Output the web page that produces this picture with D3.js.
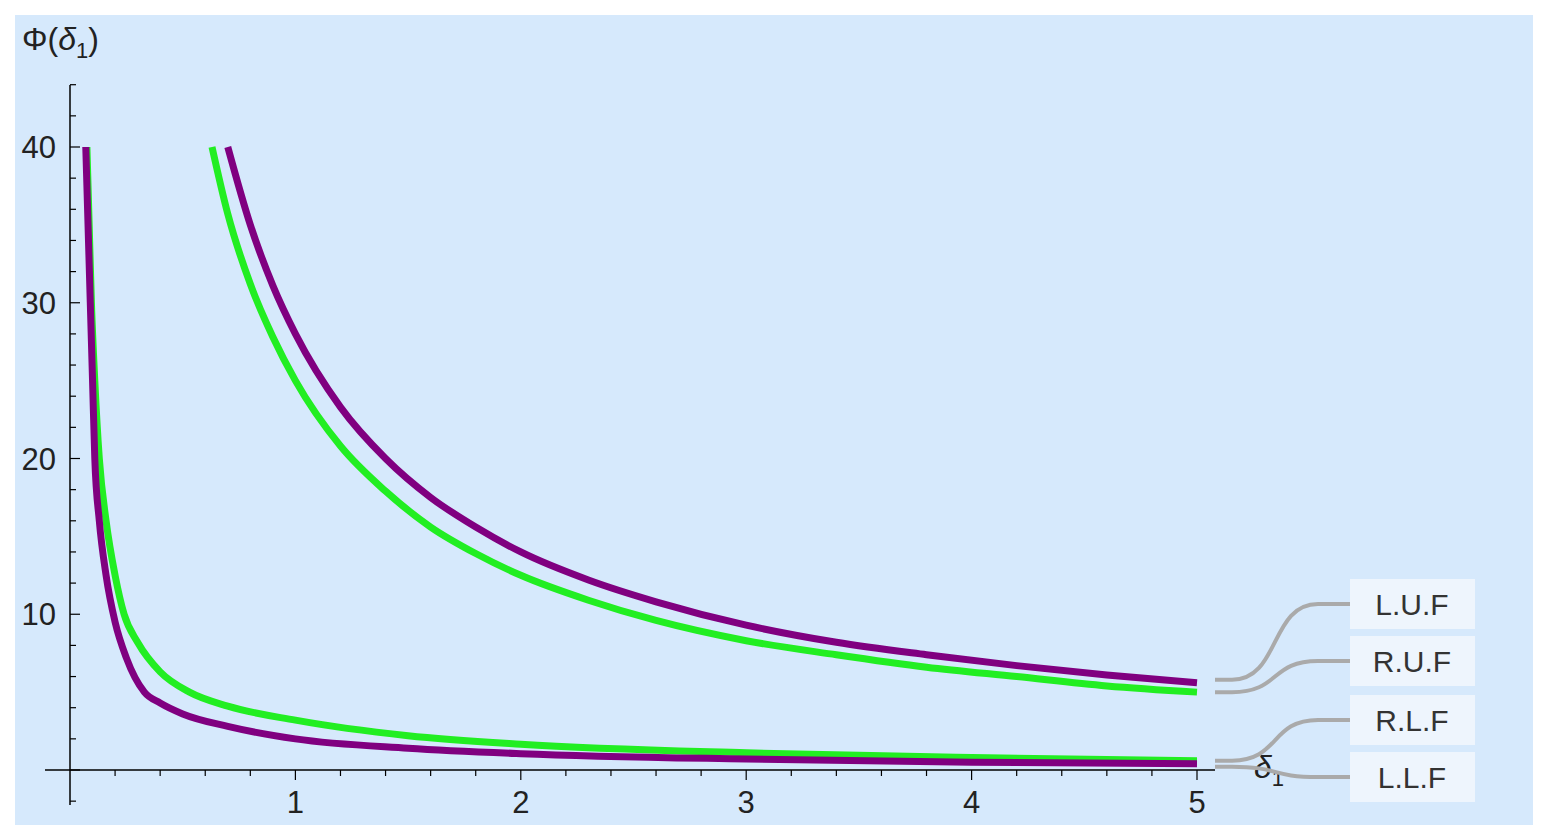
<!DOCTYPE html>
<html><head><meta charset="utf-8">
<script src="https://cdn.jsdelivr.net/npm/d3@7"></script>
<style>body{margin:0;background:#fff;font-family:"Liberation Sans",Arial,sans-serif}</style>
</head><body>
<script>
// values
let xsLU = [0.7, 0.8, 0.9, 1, 1.2, 1.4, 1.6, 1.8, 2, 2.3, 2.6, 3, 3.4, 3.8, 4.2, 4.6, 5];
let ysLU = [40, 35, 31.1, 28, 23.3, 20, 17.5, 15.6, 14, 12.2, 10.8, 9.3, 8.2, 7.4, 6.7, 6.1, 5.6];
let xsRU = [0.63, 0.7, 0.8, 0.9, 1, 1.2, 1.4, 1.6, 1.8, 2, 2.3, 2.6, 3, 3.4, 3.8, 4.2, 4.6, 5];
let ysRU = [40, 35.7, 31.2, 27.8, 25, 20.8, 17.9, 15.6, 13.9, 12.5, 10.9, 9.6, 8.3, 7.4, 6.6, 6, 5.4, 5];
let xsLL = [0.07, 0.08, 0.09, 0.1, 0.11, 0.13, 0.16, 0.2, 0.25, 0.33, 0.4, 0.5, 0.7, 1, 1.5, 2, 3, 4, 5];
let ysLL = [40, 35, 30, 25, 20, 16, 12.5, 9.5, 7.2, 5, 4.3, 3.6, 2.8, 2, 1.4, 1.05, 0.7, 0.5, 0.4];
let xsRL = [0.075, 0.085, 0.095, 0.11, 0.13, 0.16, 0.2, 0.24, 0.3, 0.4, 0.53, 0.7, 1, 1.5, 2, 3, 4, 5];
let ysRL = [40, 35, 30, 25, 20, 16, 12.5, 10, 8.2, 6.3, 5, 4.1, 3.2, 2.2, 1.65, 1.1, 0.8, 0.6];
let seriesNames = ["L.U.F", "R.U.F", "R.L.F", "L.L.F"];
let xTicks = [1, 2, 3, 4, 5];
let yTicks = [10, 20, 30, 40];

var W = 1548, H = 839;
var svg = d3.select('body').append('svg').attr('width', W).attr('height', H);
svg.append('rect').attr('x', 15).attr('y', 15).attr('width', 1518).attr('height', 810).attr('fill', '#d6e9fc');

var x = d3.scaleLinear().domain([0, 5]).range([70, 1197]);
var y = d3.scaleLinear().domain([0, 40]).range([770, 147]);

// axes
var xAxis = svg.append('g').attr('transform', 'translate(0,770)');
xAxis.append('line').attr('x1', 45).attr('x2', 1215).attr('stroke', '#000').attr('stroke-width', 1.5);
d3.range(0.2, 5.01, 0.2).forEach(function(v) {
  var major = Math.abs(v - Math.round(v)) < 1e-6;
  xAxis.append('line').attr('x1', x(v)).attr('x2', x(v)).attr('y1', 0).attr('y2', major ? 10 : 6).attr('stroke', '#000').attr('stroke-width', 1.2);
});
xAxis.selectAll('text.t').data(xTicks).enter().append('text')
  .attr('x', function(d) { return x(d); }).attr('y', 43).attr('text-anchor', 'middle')
  .attr('font-size', 31).attr('fill', '#222').text(function(d) { return d; });

var yAxis = svg.append('g').attr('transform', 'translate(70,0)');
yAxis.append('line').attr('y1', 85).attr('y2', 805).attr('stroke', '#000').attr('stroke-width', 1.5);
d3.range(-2, 44.1, 2).forEach(function(v) {
  var major = v % 10 === 0;
  yAxis.append('line').attr('y1', y(v)).attr('y2', y(v)).attr('x1', 0).attr('x2', major ? 10 : 6).attr('stroke', '#000').attr('stroke-width', 1.2);
});
yAxis.selectAll('text.t').data(yTicks).enter().append('text')
  .attr('x', -14).attr('y', function(d) { return y(d) + 11; }).attr('text-anchor', 'end')
  .attr('font-size', 31).attr('fill', '#222').text(function(d) { return d; });

var yl = svg.append('text').attr('x', 22).attr('y', 50).attr('font-size', 32).attr('fill', '#222');
yl.append('tspan').text('Φ(');
yl.append('tspan').attr('font-style', 'italic').text('δ');
yl.append('tspan').attr('font-size', 22).attr('dy', 8).text('1');
yl.append('tspan').attr('dy', -8).text(')');
var xl = svg.append('text').attr('x', 1254).attr('y', 778).attr('font-size', 32).attr('fill', '#222');
xl.append('tspan').attr('font-style', 'italic').text('δ');
xl.append('tspan').attr('font-size', 22).attr('dy', 8).text('1');

// curves
var line = d3.line().x(function(d) { return x(d[0]); }).y(function(d) { return y(d[1]); }).curve(d3.curveMonotoneX);
var curves = [
  {xs: xsRL, ys: ysRL, c: '#22ee22'},
  {xs: xsLL, ys: ysLL, c: '#800080'},
  {xs: xsRU, ys: ysRU, c: '#22ee22'},
  {xs: xsLU, ys: ysLU, c: '#800080'}
];
curves.forEach(function(s) {
  svg.append('path').datum(d3.zip(s.xs, s.ys)).attr('d', line)
    .attr('fill', 'none').attr('stroke', s.c).attr('stroke-width', 7);
});

// labels with leaders
var ends = [ysLU[ysLU.length - 1], ysRU[ysRU.length - 1], ysRL[ysRL.length - 1], ysLL[ysLL.length - 1]];
var labY = [604, 661, 720, 777];
seriesNames.forEach(function(n, i) {
  var y0 = y(ends[i]) + (i === 0 ? -3 : i === 3 ? 3 : 0);
  var y1 = labY[i];
  svg.append('path').attr('d', 'M1215,' + y0 + ' L1232,' + y0 + ' C1280,' + y0 + ' 1270,' + y1 + ' 1318,' + y1 + ' L1352,' + y1)
    .attr('fill', 'none').attr('stroke', '#aaa').attr('stroke-width', 4);
  svg.append('rect').attr('x', 1350).attr('y', y1 - 25).attr('width', 125).attr('height', 50).attr('fill', '#eef5fd');
  svg.append('text').attr('x', 1412).attr('y', y1 + 11).attr('text-anchor', 'middle')
    .attr('font-size', 30).attr('fill', '#333').text(n);
});
</script>
</body></html>
